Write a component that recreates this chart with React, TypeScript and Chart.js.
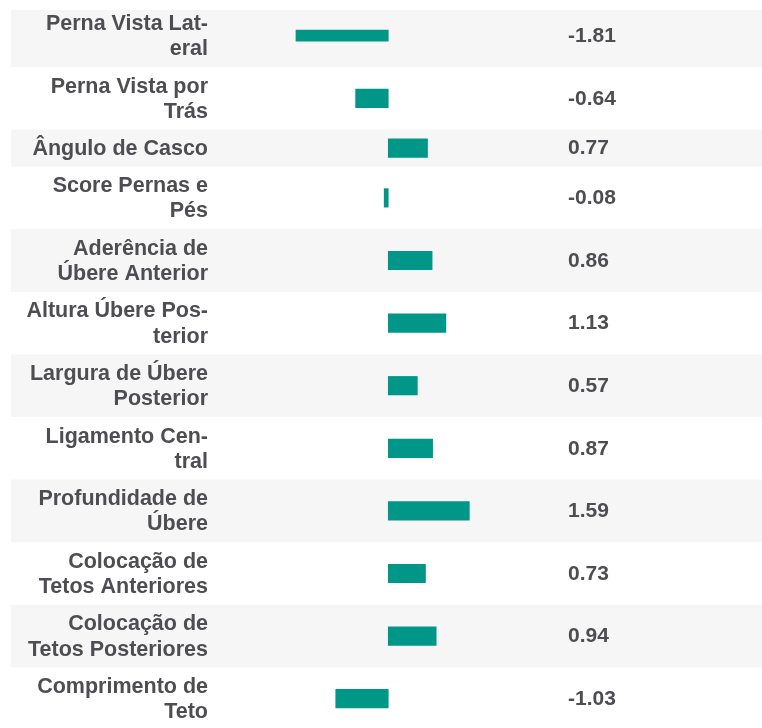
import React, { useEffect, useRef } from "react";
import { Chart, registerables } from "chart.js";

Chart.register(...registerables);

// ---- data ----
const CATEGORIES: string[][] = [
  ["Perna Vista Lat-", "eral"],
  ["Perna Vista por", "Trás"],
  ["Ângulo de Casco"],
  ["Score Pernas e", "Pés"],
  ["Aderência de", "Úbere Anterior"],
  ["Altura Úbere Pos-", "terior"],
  ["Largura de Úbere", "Posterior"],
  ["Ligamento Cen-", "tral"],
  ["Profundidade de", "Úbere"],
  ["Colocação de", "Tetos Anteriores"],
  ["Colocação de", "Tetos Posteriores"],
  ["Comprimento de", "Teto"],
];

const VALUES: number[] = [
  -1.81, -0.64, 0.77, -0.08, 0.86, 1.13, 0.57, 0.87, 1.59, 0.73, 0.94, -1.03,
];

// ---- layout / style ----
const FONT = "'Liberation Sans', Arial, Helvetica, sans-serif";
const TEXT_COLOR = "#4d4d52";
const BAR_COLOR = "#009688";
const STRIPE_COLOR = "#f6f6f6";
const LINE_UNIT = 25.6;
const ROW_PAD = 11.4;
const TOP_TRIM = 5.6;
const CANVAS_W = 762;
const CANVAS_H = 730;

// row geometry derived from label line counts
const rowHeights = CATEGORIES.map((l) => l.length * LINE_UNIT + ROW_PAD);
const rowTops: number[] = [];
rowHeights.reduce((acc, h) => {
  rowTops.push(acc);
  return acc + h;
}, 0);
const rowCenters = rowTops.map((t, i) => t + rowHeights[i] / 2);
const TOTAL = rowHeights.reduce((a, b) => a + b, 0);

const stripePlugin = {
  id: "stripes",
  beforeDraw(chart: any) {
    const { ctx, chartArea } = chart;
    const y = chart.scales.y;
    ctx.save();
    rowTops.forEach((t, i) => {
      if (i % 2 !== 0) return;
      const top = Math.max(y.getPixelForValue(t), chartArea.top);
      const bottom = Math.min(y.getPixelForValue(t + rowHeights[i]), chartArea.bottom);
      ctx.fillStyle = STRIPE_COLOR;
      ctx.fillRect(11, top, chart.width - 11, bottom - top);
    });
    ctx.restore();
  },
};

const valuePlugin = {
  id: "valueColumn",
  afterDatasetsDraw(chart: any) {
    const { ctx, chartArea } = chart;
    const y = chart.scales.y;
    ctx.save();
    ctx.font = `bold 21px ${FONT}`;
    ctx.fillStyle = TEXT_COLOR;
    ctx.textAlign = "left";
    ctx.textBaseline = "middle";
    VALUES.forEach((v, i) => {
      ctx.fillText(v.toFixed(2), chartArea.left + 348, y.getPixelForValue(rowCenters[i]) + 0.5);
    });
    ctx.restore();
  },
};

export default function App() {
  const ref = useRef<HTMLCanvasElement>(null);

  useEffect(() => {
    document.body.style.margin = "0";
    document.body.style.overflow = "hidden";
    const canvas = ref.current;
    if (!canvas) return;
    const firstData = [{ x: VALUES[0], y: rowCenters[0] }];
    const restData = VALUES.slice(1).map((v, i) => ({ x: v, y: rowCenters[i + 1] }));
    const chart = new Chart(canvas, {
      type: "bar",
      data: {
        datasets: [
          {
            data: firstData as any,
            backgroundColor: BAR_COLOR,
            borderWidth: 0,
            barThickness: 11,
            grouped: false,
          } as any,
          {
            data: restData as any,
            backgroundColor: BAR_COLOR,
            borderWidth: 0,
            barThickness: 18.5,
            grouped: false,
          } as any,
        ],
      },
      options: {
        animation: false,
        responsive: false,
        indexAxis: "y",
        devicePixelRatio: 1,
        layout: { autoPadding: false, padding: { top: 10, left: 0, right: 0, bottom: 0 } },
        plugins: {
          legend: { display: false },
          tooltip: { enabled: false },
        },
        scales: {
          x: {
            type: "linear",
            display: false,
            min: -3.3,
            max: 7.33,
          },
          y: {
            type: "linear",
            reverse: true,
            offset: false,
            min: TOP_TRIM,
            max: TOTAL,
            grid: { display: false, drawTicks: false, offset: false },
            border: { display: false },
            afterBuildTicks: (scale: any) => {
              scale.ticks = rowCenters.map((c) => ({ value: c + 1 }));
            },
            afterFit: (scale: any) => {
              scale.width = 220;
              scale.paddingTop = 0;
              scale.paddingBottom = 0;
            },
            ticks: {
              autoSkip: false,
              padding: 12,
              color: TEXT_COLOR,
              font: { family: FONT, size: 21.5, weight: "bold", lineHeight: 1.17 },
              callback: (_v: any, i: number) => CATEGORIES[i],
            },
          },
        },
      },
      plugins: [stripePlugin, valuePlugin],
    } as any);
    return () => chart.destroy();
  }, []);

  return (
    <canvas
      ref={ref}
      width={CANVAS_W}
      height={CANVAS_H}
      style={{ display: "block", width: CANVAS_W, height: CANVAS_H }}
    />
  );
}
